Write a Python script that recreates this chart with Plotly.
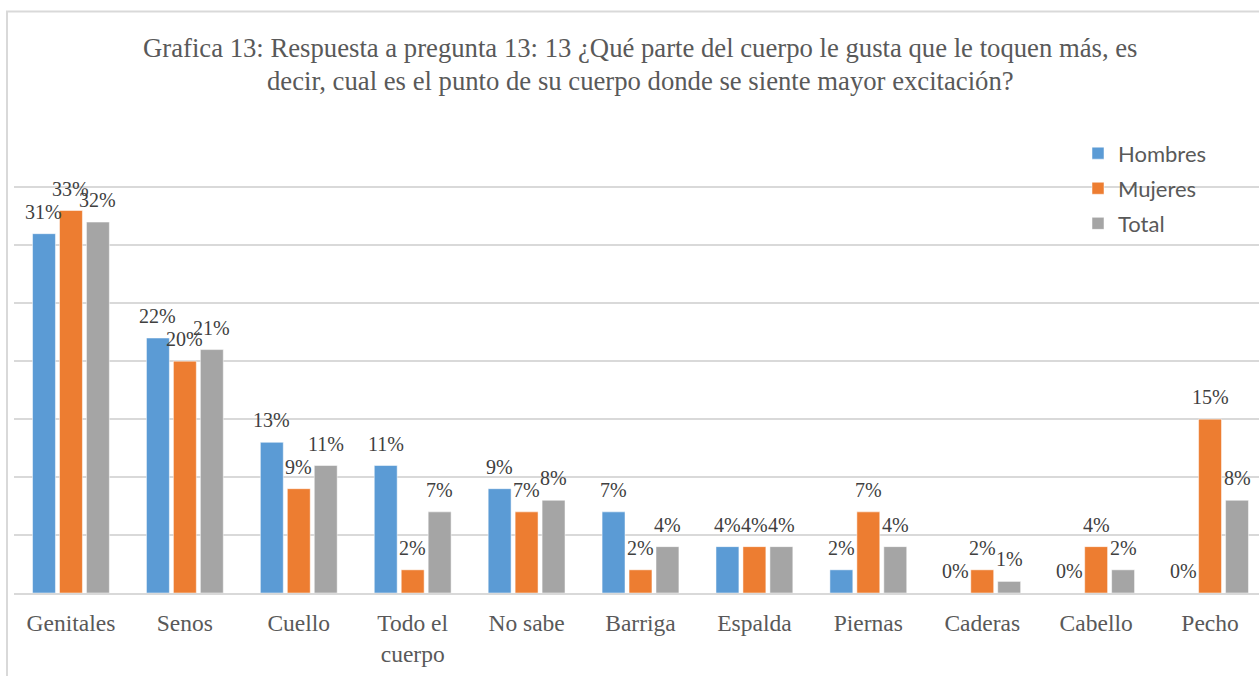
import plotly.graph_objects as go

categories = ["Genitales", "Senos", "Cuello", "Todo el<br>cuerpo", "No sabe", "Barriga",
              "Espalda", "Piernas", "Caderas", "Cabello", "Pecho"]
hombres = [0.31, 0.22, 0.13, 0.11, 0.09, 0.07, 0.04, 0.02, 0.00, 0.00, 0.00]
mujeres = [0.33, 0.20, 0.09, 0.02, 0.07, 0.02, 0.04, 0.07, 0.02, 0.04, 0.15]
total = [0.32, 0.21, 0.11, 0.07, 0.08, 0.04, 0.04, 0.04, 0.01, 0.02, 0.08]

series = [("Hombres", hombres, "#5B9BD5"),
          ("Mujeres", mujeres, "#ED7D31"),
          ("Total", total, "#A5A5A5")]

W, H = 1259, 676
YMAX = 0.352
base_px = 593
unit_px = 406 / 0.35
L, R = 14, 0
T = base_px - YMAX * unit_px
B = H - base_px
pw = W - L - R
ph = H - T - B
XMAX = 10.5 - 8 / 113.9
BARGAP = 0.29
cat_px = pw / (XMAX + 0.5)
slot_px = cat_px * (1 - BARGAP) / 3

fig = go.Figure()
annotations = []
for k, (name, vals, color) in enumerate(series):
    fig.add_trace(go.Bar(
        x=categories, y=vals, name=name, legendgroup=name,
        marker=dict(color=color, line=dict(color="white", width=0.5)),
        cliponaxis=False,
    ))
    for cat, v in zip(categories, vals):
        annotations.append(dict(
            text=f"{v:.0%}", xref="x", yref="y", x=cat, y=v,
            xshift=(k - 1) * slot_px, yshift=22,
            xanchor="center", yanchor="middle", showarrow=False,
            font=dict(family="Liberation Serif", size=20, color="#404040"),
        ))

def px2x(px):
    return (px - L) / pw

def px2y(py):
    return (H - B - py) / ph

title_lines = [
    "Grafica 13: Respuesta a pregunta 13: 13 ¿Qué parte del cuerpo le gusta que le toquen más, es",
    "decir, cual es el punto de su cuerpo donde se siente mayor excitación?",
]
for i, line in enumerate(title_lines):
    annotations.append(dict(
        text=line, xref="paper", yref="paper", x=px2x(640), y=px2y(48 + 33 * i),
        xanchor="center", yanchor="middle", showarrow=False,
        font=dict(family="Liberation Serif", size=26.7, color="#595959"),
    ))

fig.update_layout(
    width=W, height=H,
    margin=dict(l=L, r=R, t=T, b=B, autoexpand=False),
    paper_bgcolor="white", plot_bgcolor="white",
    barmode="group", bargap=BARGAP, bargroupgap=0.15,
    showlegend=True,
    legend=dict(x=px2x(1078), y=px2y(132), xanchor="left", yanchor="top",
                font=dict(family="Lato", size=22, color="#595959"),
                tracegroupgap=3.5, bgcolor="rgba(0,0,0,0)", traceorder="grouped"),
    annotations=annotations,
    shapes=[dict(type="rect", xref="paper", yref="paper",
                 x0=px2x(7), x1=px2x(1300), y0=px2y(700), y1=px2y(11),
                 line=dict(color="#D9D9D9", width=2), layer="below")],
    xaxis=dict(type="category", range=[-0.5, XMAX],
               showgrid=False, showline=True, linecolor="#D9D9D9", linewidth=1.5,
               ticks="", ticklabelstandoff=8,
               tickfont=dict(family="Liberation Serif", size=23.5, color="#595959"),
               fixedrange=True),
    yaxis=dict(range=[0, YMAX], dtick=0.05, showgrid=True, gridcolor="#D9D9D9",
               gridwidth=1.5, showticklabels=False, zeroline=False, showline=False,
               ticks="", fixedrange=True),
)

fig.write_html("out.html", config={"displayModeBar": False},
               post_script="document.body.style.margin='0';")
